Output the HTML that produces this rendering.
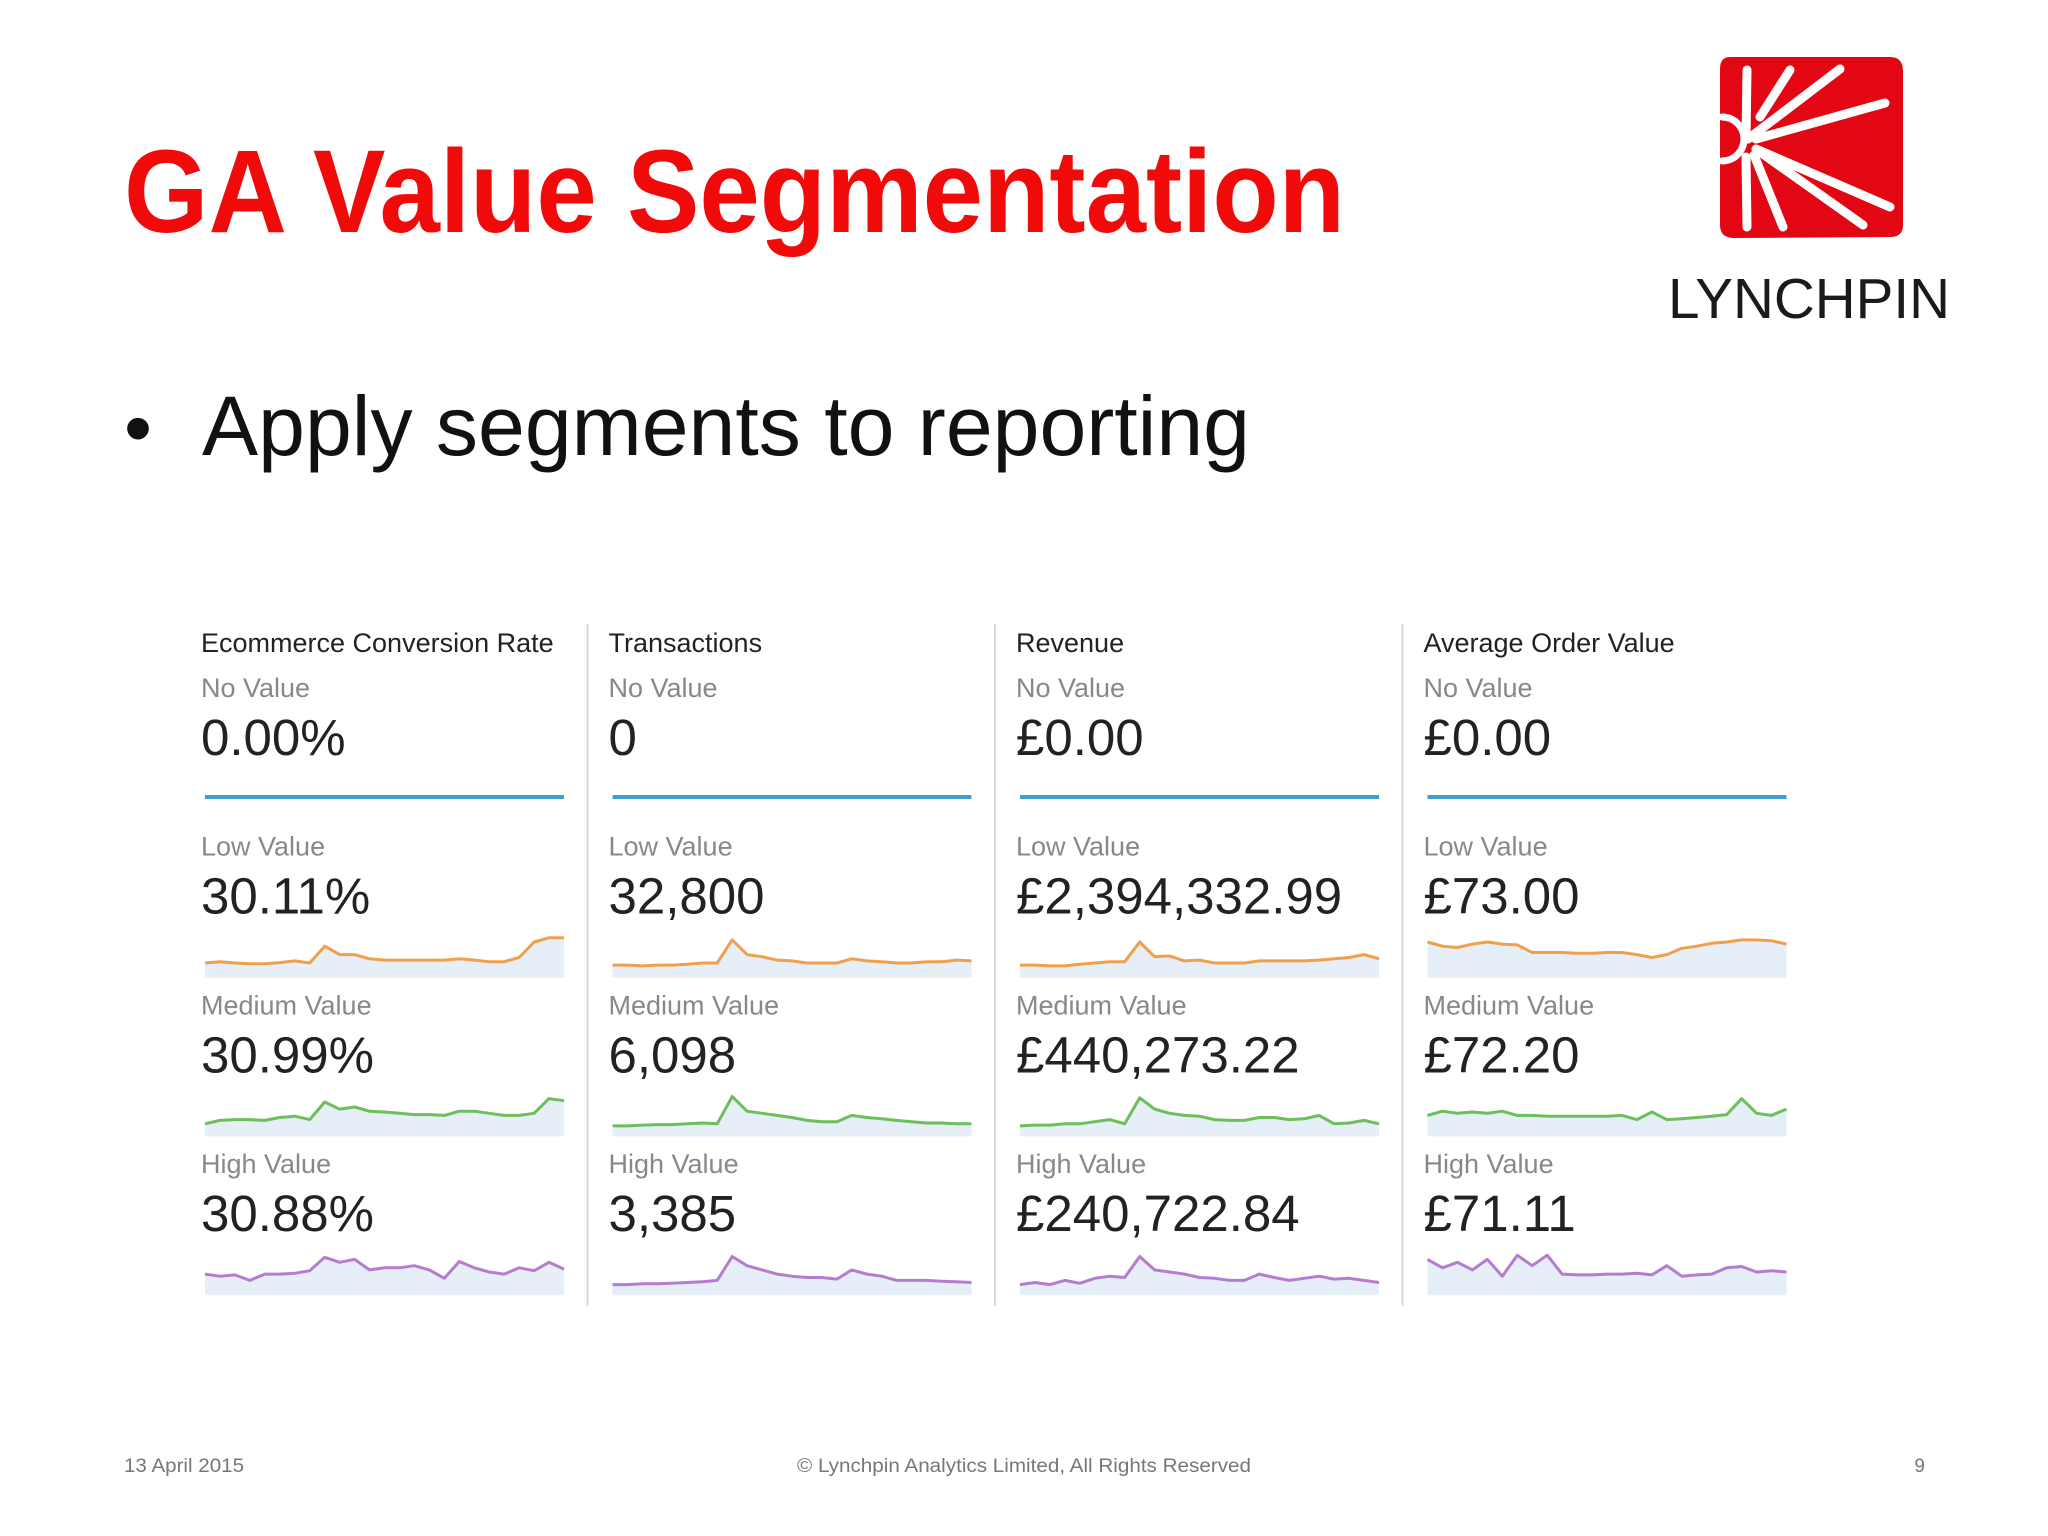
<!DOCTYPE html>
<html><head><meta charset="utf-8"><style>
html,body{margin:0;padding:0;background:#fff}
svg{display:block}
</style></head><body>
<svg id="slide" width="2048" height="1536" viewBox="0 0 2048 1536" xmlns="http://www.w3.org/2000/svg" font-family="Liberation Sans, sans-serif">
<text x="124" y="232" font-size="118" font-weight="bold" fill="#f00a0a" textLength="1221" lengthAdjust="spacingAndGlyphs">GA Value Segmentation</text>
<g transform="translate(1720,57)">
<path d="M10 0 H170 Q183 0 183 14 L183 168 Q183 180 170 180 L14 181 Q0 181 0 168 V12 Q0 0 10 0 Z" fill="#e30613"/>
<g stroke="#fff" stroke-width="9" stroke-linecap="round" fill="none">
<line x1="28" y1="82" x2="120" y2="12"/>
<line x1="36" y1="82" x2="165" y2="46"/>
<line x1="36" y1="92" x2="170" y2="150"/>
<line x1="40" y1="95" x2="143" y2="168"/>
<line x1="34" y1="98" x2="63" y2="170"/>
<line x1="26" y1="100" x2="27" y2="170"/>
<line x1="26" y1="82" x2="27" y2="13"/>
<line x1="40" y1="60" x2="70" y2="13"/>
<path d="M2 60 A22 22 0 0 1 2 104" stroke-width="7"/>
</g>
</g>
<text x="1668" y="318" font-size="57" fill="#1a1a1a" textLength="282" lengthAdjust="spacingAndGlyphs">LYNCHPIN</text>
<text x="124" y="455" font-size="80" fill="#111">•</text>
<text x="202" y="455" font-size="84" fill="#111" textLength="1048" lengthAdjust="spacingAndGlyphs">Apply segments to reporting</text>
<g id="dash"></g>
<text x="124" y="1472" font-size="19" fill="#777" textLength="120" lengthAdjust="spacingAndGlyphs">13 April 2015</text>
<text x="797" y="1472" font-size="19" fill="#777" textLength="454" lengthAdjust="spacingAndGlyphs">© Lynchpin Analytics Limited, All Rights Reserved</text>
<text x="1925" y="1472" font-size="19" fill="#777" text-anchor="end">9</text>
</svg>
<script>
const metrics = ["Ecommerce Conversion Rate","Transactions","Revenue","Average Order Value"];
const segments = ["No Value","Low Value","Medium Value","High Value"];
const noValues = ["0.00%","0","£0.00","£0.00"];
const lowValues = ["30.11%","32,800","£2,394,332.99","£73.00"];
const medValues = ["30.99%","6,098","£440,273.22","£72.20"];
const highValues = ["30.88%","3,385","£240,722.84","£71.11"];
const convLow = [0.35,0.38,0.35,0.33,0.33,0.36,0.4,0.35,0.75,0.55,0.55,0.45,0.42,0.42,0.42,0.42,0.42,0.45,0.42,0.38,0.38,0.48,0.85,0.95,0.95];
const convMed = [0.3,0.38,0.4,0.4,0.38,0.45,0.48,0.4,0.82,0.65,0.7,0.6,0.58,0.55,0.52,0.52,0.5,0.6,0.6,0.55,0.5,0.5,0.55,0.9,0.85];
const convHigh = [0.5,0.45,0.48,0.35,0.5,0.5,0.52,0.58,0.9,0.78,0.85,0.6,0.65,0.65,0.7,0.6,0.4,0.8,0.65,0.55,0.5,0.65,0.58,0.78,0.62];
const txLow = [0.3,0.3,0.28,0.3,0.3,0.32,0.35,0.35,0.9,0.55,0.5,0.42,0.4,0.35,0.35,0.35,0.45,0.4,0.38,0.35,0.35,0.38,0.38,0.42,0.4];
const txMed = [0.25,0.25,0.27,0.28,0.28,0.3,0.32,0.3,0.95,0.6,0.55,0.5,0.45,0.38,0.35,0.35,0.5,0.45,0.42,0.38,0.35,0.32,0.32,0.3,0.3];
const txHigh = [0.25,0.25,0.27,0.27,0.28,0.3,0.32,0.35,0.92,0.7,0.6,0.5,0.45,0.42,0.42,0.38,0.6,0.5,0.45,0.35,0.35,0.35,0.33,0.32,0.3];
const revLow = [0.3,0.3,0.28,0.28,0.32,0.35,0.38,0.38,0.85,0.5,0.52,0.4,0.42,0.35,0.35,0.35,0.4,0.4,0.4,0.4,0.42,0.45,0.48,0.55,0.45];
const revMed = [0.25,0.27,0.27,0.3,0.3,0.35,0.4,0.3,0.92,0.65,0.55,0.5,0.48,0.4,0.38,0.38,0.45,0.45,0.4,0.42,0.5,0.3,0.32,0.38,0.3];
const revHigh = [0.25,0.3,0.25,0.35,0.28,0.4,0.45,0.42,0.92,0.6,0.55,0.5,0.42,0.4,0.35,0.35,0.5,0.42,0.35,0.4,0.45,0.38,0.4,0.35,0.3];
const aovLow = [0.85,0.75,0.72,0.8,0.85,0.8,0.78,0.6,0.6,0.6,0.58,0.58,0.6,0.6,0.55,0.48,0.55,0.7,0.75,0.82,0.85,0.9,0.9,0.88,0.8];
const aovMed = [0.5,0.6,0.55,0.58,0.55,0.6,0.5,0.5,0.48,0.48,0.48,0.48,0.48,0.5,0.4,0.58,0.4,0.42,0.45,0.48,0.52,0.9,0.55,0.5,0.65];
const aovHigh = [0.85,0.65,0.78,0.6,0.85,0.45,0.95,0.7,0.95,0.5,0.48,0.48,0.5,0.5,0.52,0.48,0.7,0.45,0.48,0.5,0.65,0.68,0.55,0.58,0.55];

const NS="http://www.w3.org/2000/svg";
const dash=document.getElementById('dash');
const spark=[[null,convLow,convMed,convHigh],[null,txLow,txMed,txHigh],[null,revLow,revMed,revHigh],[null,aovLow,aovMed,aovHigh]];
const vals=[noValues,lowValues,medValues,highValues];
const colors=["#3fa0d0","#f0a04b","#6cbf5a","#b57ccf"];
const colX=c=>201+c*407.5;
const rowY=r=>697+r*158.7;
function mk(tag,attrs,parent){const e=document.createElementNS(NS,tag);for(const k in attrs)e.setAttribute(k,attrs[k]);parent.appendChild(e);return e;}
for(let c=0;c<4;c++){
  const g=mk('g',{},dash);
  
  
  if(c>0){const l=mk('line',{x1:colX(c)-21,x2:colX(c)-21,y1:624,y2:1306,stroke:'#d8d8d8','stroke-width':2},g);
    
    }
  const h=mk('text',{x:colX(c),y:652,'font-size':27,fill:'#222'},g);
  h.textContent=metrics[c];
  
  
  for(let r=0;r<4;r++){
    const y=rowY(r);
    const lb=mk('text',{x:colX(c),y:y,'font-size':27,fill:'#888'},g);
    lb.textContent=segments[r];
    
    
    const v=mk('text',{x:colX(c),y:y+58,'font-size':51,fill:'#222'},g);
    v.textContent=vals[r][c];
    
    
    const x0=colX(c)+4,w=359,top=y+(r===0?98:80),hgt=42;
    if(r===0){
      const bl=mk('line',{x1:x0,x2:x0+w,y1:y+100,y2:y+100,stroke:colors[0],'stroke-width':4},g);
      
      
      continue;
    }
    const d=spark[c][r];
    const sx=i=>x0+i*w/(d.length-1);
    const sy=v=>top+hgt-v*hgt;
    let pts=d.map((v,i)=>sx(i).toFixed(1)+','+sy(v).toFixed(1));
    const area=mk('polygon',{points:x0+','+(top+hgt)+' '+pts.join(' ')+' '+(x0+w)+','+(top+hgt),fill:'#e6eef8'},g);
    
    
    const ln=mk('polyline',{points:pts.join(' '),fill:'none',stroke:colors[r],'stroke-width':3,'stroke-linejoin':'round'},g);
    
    
  }
}
</script>
</body></html>
